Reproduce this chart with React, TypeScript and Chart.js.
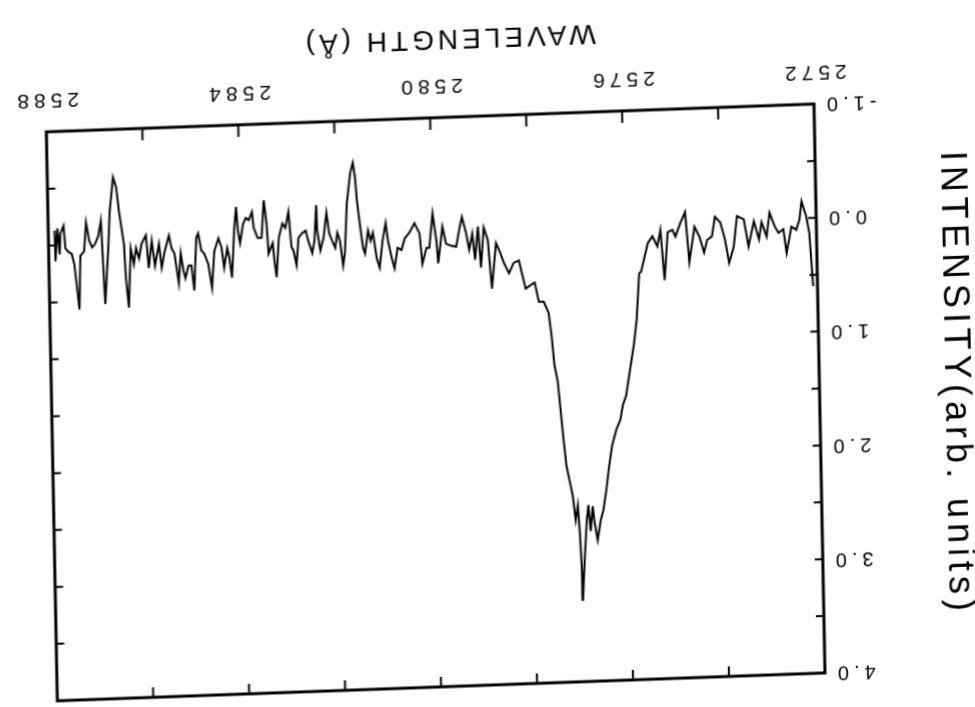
import React, { useEffect, useRef } from 'react';
import { Chart, registerables } from 'chart.js';

Chart.register(...registerables);

// Spectrum: wavelength (Å) and intensity (arb. units)
const wavelength = [
  2572.09, 2572.15, 2572.21, 2572.30, 2572.35, 2572.42, 2572.52, 2572.63, 2572.69, 2572.79,
  2572.87, 2572.97, 2573.04, 2573.14, 2573.20, 2573.30, 2573.42, 2573.51, 2573.65, 2573.73,
  2573.83, 2573.91, 2574.00, 2574.11, 2574.18, 2574.28, 2574.35, 2574.44, 2574.54, 2574.66,
  2574.73, 2574.83, 2574.94, 2575.00, 2575.10, 2575.18, 2575.25, 2575.32, 2575.42, 2575.52,
  2575.59, 2575.67, 2575.71, 2575.78, 2575.85, 2575.94, 2576.03, 2576.10, 2576.16, 2576.25,
  2576.34, 2576.41, 2576.48, 2576.55, 2576.61, 2576.68, 2576.74, 2576.77, 2576.82, 2576.86,
  2576.90, 2576.96, 2577.01, 2577.02, 2577.05, 2577.08, 2577.13, 2577.18, 2577.24, 2577.30,
  2577.35, 2577.40, 2577.45, 2577.51, 2577.56, 2577.61, 2577.71, 2577.81, 2577.89, 2577.97,
  2578.08, 2578.21, 2578.32, 2578.42, 2578.52, 2578.62, 2578.68, 2578.78, 2578.85, 2578.93,
  2579.00, 2579.05, 2579.12, 2579.17, 2579.24, 2579.30, 2579.38, 2579.44, 2579.51, 2579.61,
  2579.72, 2579.79, 2579.89, 2579.92, 2579.99, 2580.07, 2580.13, 2580.22, 2580.27, 2580.37,
  2580.48, 2580.58, 2580.65, 2580.73, 2580.80, 2580.86, 2580.93, 2580.97, 2581.04, 2581.11,
  2581.17, 2581.24, 2581.29, 2581.34, 2581.41, 2581.45, 2581.51, 2581.56, 2581.59, 2581.63,
  2581.69, 2581.77, 2581.83, 2581.87, 2581.93, 2581.98, 2582.03, 2582.09, 2582.15, 2582.20,
  2582.27, 2582.34, 2582.40, 2582.41, 2582.46, 2582.51, 2582.59, 2582.64, 2582.71, 2582.79,
  2582.84, 2582.90, 2582.94, 2582.99, 2583.06, 2583.12, 2583.20, 2583.26, 2583.30, 2583.33,
  2583.42, 2583.45, 2583.50, 2583.56, 2583.64, 2583.72, 2583.75, 2583.82, 2583.88, 2583.94,
  2584.01, 2584.05, 2584.08, 2584.13, 2584.19, 2584.24, 2584.28, 2584.35, 2584.40, 2584.46,
  2584.55, 2584.61, 2584.68, 2584.76, 2584.82, 2584.88, 2584.92, 2584.98, 2585.03, 2585.09,
  2585.16, 2585.20, 2585.25, 2585.30, 2585.38, 2585.44, 2585.49, 2585.58, 2585.65, 2585.70,
  2585.79, 2585.85, 2585.92, 2585.97, 2586.06, 2586.12, 2586.18, 2586.23, 2586.29, 2586.35,
  2586.40, 2586.43, 2586.52, 2586.57, 2586.63, 2586.71, 2586.76, 2586.84, 2586.90, 2586.96,
  2587.03, 2587.09, 2587.15, 2587.21, 2587.26, 2587.34, 2587.38, 2587.43, 2587.47, 2587.52,
  2587.59, 2587.65, 2587.68, 2587.75, 2587.77, 2587.81, 2587.86, 2587.87,
];

const intensity = [
  0.60, 0.13, -0.02, -0.15, 0.01, 0.10, 0.07, 0.30, 0.09, 0.12,
  0.06, -0.06, 0.15, 0.02, 0.17, 0.01, 0.23, -0.01, -0.04, 0.23,
  0.37, 0.16, 0.01, -0.04, 0.13, 0.16, 0.27, 0.13, 0.04, 0.35,
  -0.09, 0.00, 0.12, 0.06, 0.08, 0.50, 0.06, 0.20, 0.11, 0.17,
  0.29, 0.42, 0.43, 0.84, 1.06, 1.28, 1.50, 1.58, 1.71, 1.80,
  1.93, 2.11, 2.32, 2.50, 2.59, 2.76, 2.59, 2.46, 2.68, 2.45,
  2.59, 2.94, 3.29, 3.02, 2.67, 2.45, 2.58, 2.37, 2.23, 2.10,
  1.87, 1.61, 1.35, 1.21, 0.95, 0.75, 0.65, 0.65, 0.48, 0.50,
  0.53, 0.28, 0.30, 0.39, 0.30, 0.18, 0.12, 0.52, 0.09, -0.02,
  0.33, -0.03, 0.26, 0.03, 0.17, 0.02, -0.12, -0.01, 0.14, 0.13,
  0.11, -0.04, 0.28, 0.08, -0.16, 0.14, 0.14, 0.28, 0.01, -0.08,
  0.00, 0.05, 0.15, 0.13, 0.31, 0.21, 0.06, -0.09, 0.06, 0.30,
  0.21, -0.01, 0.06, -0.03, 0.17, 0.12, -0.10, -0.30, -0.50, -0.63,
  -0.54, -0.28, 0.16, 0.27, 0.05, -0.02, 0.11, 0.05, -0.02, -0.20,
  0.02, 0.13, -0.05, -0.27, 0.04, 0.15, 0.04, -0.05, -0.03, 0.01,
  0.25, 0.12, 0.09, -0.22, -0.08, -0.12, 0.00, 0.35, 0.20, 0.05,
  0.14, -0.12, -0.33, 0.00, 0.00, -0.09, -0.23, -0.16, -0.18, -0.13,
  0.04, -0.07, -0.28, -0.07, 0.34, 0.16, 0.08, 0.25, 0.07, -0.01,
  0.10, 0.42, 0.21, 0.12, 0.09, -0.06, -0.02, 0.44, 0.22, 0.22,
  0.33, 0.26, 0.11, 0.37, 0.11, 0.06, -0.05, 0.08, 0.23, 0.02,
  0.21, -0.01, 0.23, -0.06, 0.01, 0.14, 0.05, 0.19, 0.05, 0.57,
  0.31, 0.01, -0.28, -0.49, -0.58, -0.29, 0.07, 0.53, -0.20, -0.07,
  0.00, 0.03, -0.03, -0.19, 0.06, 0.10, 0.57, 0.34, 0.17, 0.08,
  0.06, 0.03, -0.17, -0.10, 0.08, -0.15, 0.14, -0.13,
];

// Labelled ticks
const wavelengthLabels = [2572, 2576, 2580, 2584, 2588];
const intensityLabels = [-1, 0, 1, 2, 3, 4];

const X_TITLE = 'WAVELENGTH (Å)';
const Y_TITLE = 'INTENSITY(arb. units)';

const LETTER_SPACING = '5px';
const FONT = '"Liberation Sans", Arial, sans-serif';

// Wider glyph spacing for all text on the canvas
const spacingPlugin = {
  id: 'spacing',
  beforeUpdate(chart: any) { chart.ctx.letterSpacing = LETTER_SPACING; },
  beforeDraw(chart: any) { chart.ctx.letterSpacing = LETTER_SPACING; },
};

// Heavy frame with inward tick marks on all four sides
const framePlugin = {
  id: 'frame',
  afterDatasetsDraw(chart: any) {
    const { ctx, chartArea, scales } = chart;
    const { left, right, top, bottom } = chartArea;
    const xs = scales.x;
    const ys = scales.y;
    ctx.save();
    ctx.strokeStyle = '#000';
    ctx.lineCap = 'square';
    ctx.lineWidth = 2;
    ctx.beginPath();
    xs.ticks.forEach((t: any) => {
      const px = xs.getPixelForValue(t.value);
      ctx.moveTo(px, bottom);
      ctx.lineTo(px, bottom - 11);
      ctx.moveTo(px, top);
      ctx.lineTo(px, top + 9);
    });
    ys.ticks.forEach((t: any) => {
      const py = ys.getPixelForValue(t.value);
      ctx.moveTo(left, py);
      ctx.lineTo(left + 7, py);
      ctx.moveTo(right, py);
      ctx.lineTo(right - 7, py);
    });
    ctx.stroke();
    ctx.lineWidth = 3;
    ctx.strokeRect(left, top, right - left, bottom - top);
    ctx.restore();
  },
};

// Wavelength caption under the bottom axis, set a little left of centre
const captionPlugin = {
  id: 'caption',
  afterDraw(chart: any) {
    const { ctx, chartArea } = chart;
    ctx.save();
    ctx.letterSpacing = '4px';
    ctx.font = `28px ${FONT}`;
    ctx.fillStyle = '#000';
    ctx.textAlign = 'center';
    ctx.textBaseline = 'middle';
    ctx.fillText(X_TITLE, (chartArea.left + chartArea.right) / 2 - 20, chart.height - 32);
    ctx.restore();
  },
};

export default function App() {
  const canvasRef = useRef<HTMLCanvasElement | null>(null);

  useEffect(() => {
    const canvas = canvasRef.current;
    if (!canvas) return;
    const points = wavelength.map((w, i) => ({ x: w, y: intensity[i] }));
    const chart = new Chart(canvas, {
      type: 'line',
      data: {
        datasets: [
          {
            data: points,
            borderColor: '#000',
            borderWidth: 2,
            pointRadius: 0,
            tension: 0,
            fill: false,
          },
        ],
      },
      options: {
        animation: false,
        responsive: false,
        devicePixelRatio: 1,
        layout: { padding: { left: 0, top: 27, right: 50, bottom: 0 } },
        plugins: {
          legend: { display: false },
          tooltip: { enabled: false },
        },
        scales: {
          x: {
            type: 'linear',
            min: 2572,
            max: 2588,
            grid: { display: false, drawTicks: false },
            border: { display: false },
            afterFit: (scale: any) => { scale.height = 111; },
            ticks: {
              stepSize: 2,
              padding: 20,
              color: '#000',
              maxRotation: 0,
              autoSkip: false,
              font: { family: FONT, size: 21 },
              callback: (v: any) => (wavelengthLabels.includes(Number(v)) ? String(v) : ''),
            },
            title: { display: false, text: X_TITLE },
          },
          y: {
            type: 'linear',
            min: -1,
            max: 4,
            grid: { display: false, drawTicks: false },
            border: { display: false },
            afterFit: (scale: any) => { scale.width = 154; },
            ticks: {
              stepSize: 0.5,
              padding: 8,
              color: '#000',
              autoSkip: false,
              font: { family: FONT, size: 20 },
              callback: (v: any) => (intensityLabels.includes(Number(v)) ? Number(v).toFixed(1) : ''),
            },
            title: {
              display: true,
              text: Y_TITLE,
              color: '#000',
              font: { family: FONT, size: 36 },
              padding: { top: -4, bottom: 0 },
            },
          },
        },
      },
      plugins: [spacingPlugin, framePlugin, captionPlugin],
    });
    return () => chart.destroy();
  }, []);

  return (
    <div
      style={{
        position: 'absolute',
        left: 0,
        top: 0,
        width: 975,
        height: 707,
        overflow: 'hidden',
        background: '#fff',
      }}
    >
      <canvas
        ref={canvasRef}
        width={975}
        height={707}
        style={{
          display: 'block',
          width: 975,
          height: 707,
          transformOrigin: '0 0',
          transform: 'matrix(-1, 0.0363, -0.0193, -1, 979.5, 694.4)',
        }}
      />
    </div>
  );
}
